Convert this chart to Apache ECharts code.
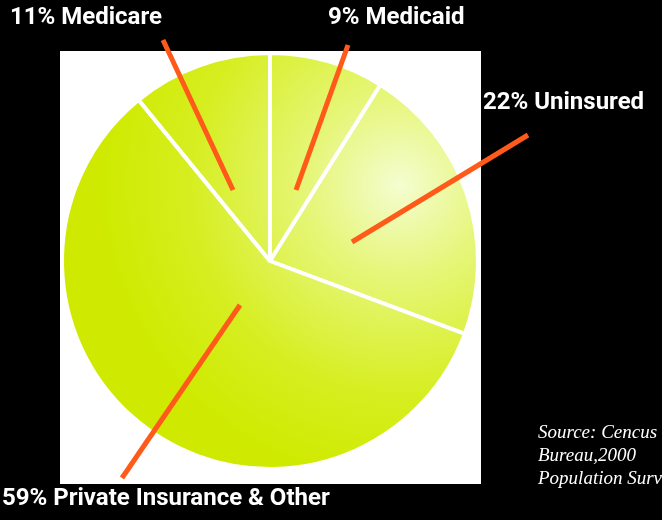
<!DOCTYPE html>
<html>
<head>
<meta charset="utf-8">
<script src="https://cdn.jsdelivr.net/npm/echarts@6/dist/echarts.min.js"></script>
<style>
  html, body { margin: 0; padding: 0; background: #000; }
  #chart { width: 662px; height: 520px; }
</style>
</head>
<body>
<div id="chart"></div>
<script>
// slices in drawing order, clockwise from 12 o'clock
var categories = ['Medicaid', 'Uninsured', 'Private Insurance & Other', 'Medicare'];
var shares = [9, 22, 59, 11];

// where each label sits and where its orange pointer ends inside the pie
var labelSpots = [
  { x: 328, y: 6,   tip: [296, 190], from: [348, 45] },
  { x: 483, y: 91,  tip: [352, 242], from: [528, 135] },
  { x: 2,   y: 487, tip: [240, 305], from: [122, 478] },
  { x: 10,  y: 6,   tip: [233, 190], from: [163, 40] }
];

var pieData = categories.map(function (c, i) {
  return { name: c, value: shares[i] };
});

var chart = echarts.init(document.getElementById('chart'));

var option = {
  backgroundColor: '#000',
  animation: false,
  graphic: [
    {
      type: 'rect',
      z: -10,
      shape: { x: 60, y: 51, width: 421, height: 433 },
      style: { fill: '#fff' }
    },
    {
      type: 'text',
      left: 538,
      top: 421,
      style: {
        text: 'Source: Cencus\nBureau,2000\nPopulation Survey',
        fill: '#fff',
        font: 'italic 19px "Liberation Serif", "DejaVu Serif", serif',
        lineHeight: 23
      }
    }
  ],
  series: [
    {
      // the slices
      type: 'pie',
      z: 2,
      center: [270, 261],
      radius: 208,
      startAngle: 90,
      clockwise: true,
      silent: true,
      itemStyle: {
        color: {
          type: 'radial',
          x: 400, y: 185, r: 300,
          global: true,
          colorStops: [
            { offset: 0, color: '#f4fdd0' },
            { offset: 0.3, color: '#e6f67a' },
            { offset: 0.7, color: '#d6ee20' },
            { offset: 1, color: '#cfea00' }
          ]
        },
        borderColor: '#fff',
        borderWidth: 4
      },
      label: { show: false },
      labelLine: { show: false },
      emphasis: { disabled: true },
      data: pieData
    },
    {
      // same slices again, invisible, only to carry labels and pointers on top
      type: 'pie',
      z: 5,
      center: [270, 261],
      radius: 208,
      startAngle: 90,
      clockwise: true,
      silent: true,
      itemStyle: { color: 'rgba(0,0,0,0)', borderWidth: 0 },
      label: {
        show: true,
        position: 'outside',
        overflow: 'none',
        color: '#fff',
        fontSize: 24,
        fontWeight: 'bold',
        fontFamily: 'Roboto, "DejaVu Sans Condensed", sans-serif',
        formatter: function (p) { return p.value + '% ' + p.name; }
      },
      labelLine: {
        show: true,
        lineStyle: { color: '#ff5a1a', width: 5 }
      },
      labelLayout: function (params) {
        var s = labelSpots[params.dataIndex];
        return {
          x: s.x,
          y: s.y,
          width: 400,
          align: 'left',
          verticalAlign: 'top',
          labelLinePoints: [s.from, s.from, s.tip]
        };
      },
      emphasis: { disabled: true },
      data: pieData
    }
  ]
};

chart.setOption(option);
</script>
</body>
</html>
